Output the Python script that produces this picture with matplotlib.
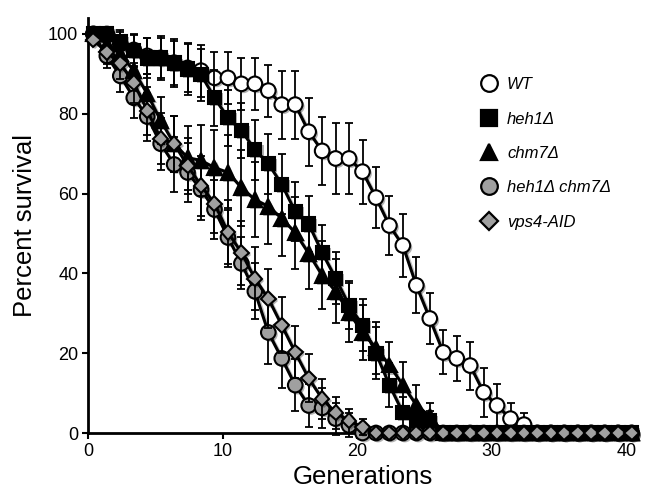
import numpy as np
import matplotlib
matplotlib.use("Agg")
import matplotlib.pyplot as plt
import matplotlib.patheffects as pe
from matplotlib.lines import Line2D

plt.rcParams['font.family'] = ['Liberation Sans', 'DejaVu Sans']

# ---------------- DATA ----------------
# one point per generation, drawn slightly right of the integer tick
generations = np.arange(41) + 0.4

wt = [100, 100, 97.5, 96, 94.5, 94, 92.8, 91.5, 90.8, 89, 89, 87.5, 87.5, 85.8, 82.3, 82.3,
      75.5, 70.7, 68.8, 68.8, 65.5, 59, 52, 47, 37, 28.7, 20.2, 18.7, 16.9, 10.2, 6.9,
      3.6, 2.1, 0, 0, 0, 0, 0, 0, 0, 0]
wt_err = [0, 1, 3, 4, 4.5, 5, 5.5, 6, 6.5, 6.5, 6.5, 6.5, 6.5, 6.5, 8.5, 8.5,
          8.5, 8.5, 9, 9, 8, 7.7, 7.5, 8, 7, 6.5, 5.5, 5.7, 6, 6.2, 5.5,
          4, 2.8, 0, 0, 0, 0, 0, 0, 0, 0]

heh1 = [100, 100, 98, 95.8, 94, 94, 92.7, 91.2, 89.8, 84, 79, 75.8, 71, 67.5, 62.3, 55.5,
        52.4, 45.2, 38.8, 32, 27, 20, 12, 5.1, 3.1, 3.1, 0, 0, 0, 0, 0,
        0, 0, 0, 0, 0, 0, 0, 0, 0, 0]
heh1_err = [0, 1.5, 3, 4, 5, 5.5, 6, 6.5, 6.5, 7, 7, 7, 7.5, 7.5, 7.5, 7.5,
            7, 7, 6.5, 6, 6.5, 6.5, 5.5, 4, 3, 2.5, 0, 0, 0, 0, 0,
            0, 0, 0, 0, 0, 0, 0, 0, 0, 0]

chm7 = [100, 97.5, 95, 90.8, 85, 78.3, 72.5, 69, 68.3, 66.5, 65.3, 61.5, 58.5, 56.8, 53.8, 50.2,
        45, 39.5, 35.5, 30.2, 25.2, 21.3, 17, 12, 7, 4.2, 0, 0, 0, 0, 0,
        0, 0, 0, 0, 0, 0, 0, 0, 0, 0]
chm7_err = [0, 2, 3, 4, 5, 6, 7, 8, 9, 9.5, 9.5, 9.5, 9.5, 9.5, 9.5, 9,
            9, 8.5, 8, 7.5, 7, 6.5, 5.7, 5.8, 5, 3.2, 0, 0, 0, 0, 0,
            0, 0, 0, 0, 0, 0, 0, 0, 0, 0]

double = [100, 94.5, 89.5, 84, 79.3, 72.5, 67.3, 65.3, 61, 56, 49, 42.5, 35.5, 25.2, 18.7, 12,
          6.9, 6.3, 3.6, 1.9, 0, 0, 0, 0, 0, 0, 0, 0, 0, 0, 0,
          0, 0, 0, 0, 0, 0, 0, 0, 0, 0]
double_err = [0, 3, 4, 5, 6, 6.5, 7, 7.5, 7.5, 7.5, 7.5, 6.5, 7, 8, 7.5, 6.5,
              5.5, 5, 4, 3, 0, 0, 0, 0, 0, 0, 0, 0, 0, 0, 0,
              0, 0, 0, 0, 0, 0, 0, 0, 0, 0]

vps4 = [98.5, 95.4, 92.6, 87.8, 80.8, 73.8, 72.5, 67, 62, 57.5, 50.3, 45.2, 38.7, 33.7, 27, 20.2,
        13.7, 8.6, 5.1, 3.1, 1.4, 0, 0, 0, 0, 0, 0, 0, 0, 0, 0,
        0, 0, 0, 0, 0, 0, 0, 0, 0, 0]
vps4_err = [0, 3, 4, 5, 6, 6.5, 7, 7, 7.5, 7.5, 8, 8, 8, 7.5, 7, 6.5,
            6, 5, 4, 3, 2, 0, 0, 0, 0, 0, 0, 0, 0, 0, 0,
            0, 0, 0, 0, 0, 0, 0, 0, 0, 0]

wt_label = "WT"
heh1_label = "heh1\u0394"
chm7_label = "chm7\u0394"
double_label = "heh1\u0394 chm7\u0394"
vps4_label = "vps4-AID"

# ---------------- STYLE ----------------
# drawing order (bottom -> top); legend keeps its own order
series = {
    "wt": (wt, wt_err, wt_label, "o", "white", 10.5),
    "double": (double, double_err, double_label, "o", "#a0a0a0", 10.5),
    "chm7": (chm7, chm7_err, chm7_label, "^", "black", 10.5),
    "heh1": (heh1, heh1_err, heh1_label, "s", "black", 9.5),
    "vps4": (vps4, vps4_err, vps4_label, "D", "#a0a0a0", 7.5),
}
legend_order = ["wt", "heh1", "chm7", "double", "vps4"]

line_shadow = [pe.SimpleLineShadow(offset=(1.5, -1.5), alpha=0.25), pe.Normal()]
mark_shadow = [pe.SimplePatchShadow(offset=(1.5, -1.5), alpha=0.3, shadow_rgbFace="black"), pe.Normal()]

fig = plt.figure(figsize=(6.48, 4.97), dpi=100)
ax = fig.add_axes([88 / 648, 64 / 497, 549 / 648, 415 / 497])

handles = {}
for i, (key, (vals, errs, lab, mk, face, ms)) in enumerate(series.items()):
    vals = np.array(vals, dtype=float)
    errs = np.array(errs, dtype=float)
    z = 3 + i * 3
    has = errs > 0
    ax.errorbar(generations[has], vals[has], yerr=errs[has], fmt="none",
                ecolor="black", elinewidth=1.3, capsize=3.2, capthick=1.3,
                zorder=z, clip_on=False)
    ax.plot(generations, vals, "-", color="black", lw=2.2, zorder=z + 1,
            clip_on=False, path_effects=line_shadow)
    ax.plot(generations, vals, linestyle="none", marker=mk, ms=ms,
            mfc=face, mec="black", mew=1.5, zorder=z + 2, clip_on=False,
            path_effects=mark_shadow)
    handles[key] = Line2D([], [], linestyle="none", marker=mk, ms=ms + 1.5,
                          mfc=face, mec="black", mew=1.6)

ax.set_xlim(0, 40.8)
ax.set_ylim(0, 104)
ax.set_xticks([0, 10, 20, 30, 40])
ax.set_yticks([0, 20, 40, 60, 80, 100])
ax.spines["top"].set_visible(False)
ax.spines["right"].set_visible(False)
ax.spines["left"].set_linewidth(2)
ax.spines["bottom"].set_linewidth(2)
ax.tick_params(direction="out", length=4, width=1.5, labelsize=13, pad=3)

ax.set_xlabel("Generations", fontsize=18.5, labelpad=4)
ax.set_ylabel("Percent survival", fontsize=18.5, labelpad=8)

ax.legend([handles[k] for k in legend_order], [series[k][2] for k in legend_order],
          loc="upper left", bbox_to_anchor=(472 / 648, 1 - 69 / 497),
          bbox_transform=fig.transFigure, frameon=False, borderpad=0,
          handlelength=1.0, handletextpad=0.6, labelspacing=1.16,
          prop={"family": "Liberation Sans", "style": "italic", "size": 12})

fig.savefig("out.png", dpi=100)
